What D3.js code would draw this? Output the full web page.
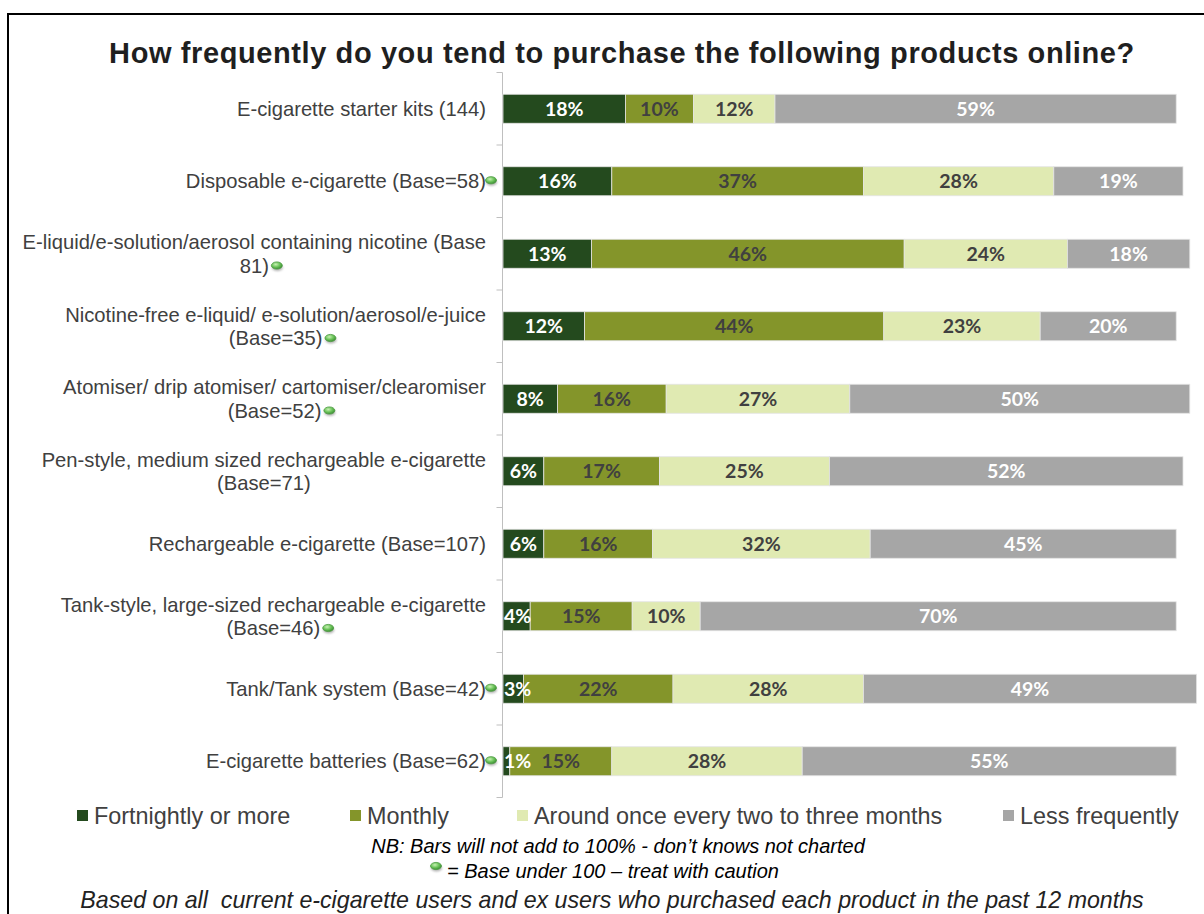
<!DOCTYPE html>
<html>
<head>
<meta charset="utf-8">
<script src="https://cdn.jsdelivr.net/npm/d3@7"></script>
<style>
  html, body { margin: 0; padding: 0; background: #fff; }
  svg { display: block; }
</style>
</head>
<body>
<svg id="chart" width="1204" height="914"></svg>
<script>
// Survey categories (line breaks mark where a long label wraps)
const categories = [
  "E-cigarette starter kits (144)",
  "Disposable e-cigarette (Base=58)",
  "E-liquid/e-solution/aerosol containing nicotine (Base\n81)",
  "Nicotine-free e-liquid/ e-solution/aerosol/e-juice\n(Base=35)",
  "Atomiser/ drip atomiser/ cartomiser/clearomiser\n(Base=52)",
  "Pen-style, medium sized rechargeable e-cigarette\n(Base=71)",
  "Rechargeable e-cigarette (Base=107)",
  "Tank-style, large-sized rechargeable e-cigarette\n(Base=46)",
  "Tank/Tank system (Base=42)",
  "E-cigarette batteries (Base=62)"
];
// Rows flagged with a caution marker
const cautionFlag = [false, true, true, true, true, false, false, true, true, true];

const seriesNames = [
  "Fortnightly or more",
  "Monthly",
  "Around once every two to three months",
  "Less frequently"
];
const fortnightly = [18, 16, 13, 12, 8, 6, 6, 4, 3, 1];
const monthly     = [10, 37, 46, 44, 16, 17, 16, 15, 22, 15];
const around      = [12, 28, 24, 23, 27, 25, 32, 10, 28, 28];
const less        = [59, 19, 18, 20, 50, 52, 45, 70, 49, 55];

const titleText = "How frequently do you tend to purchase the following products online?";
const noteText = "NB: Bars will not add to 100% - don\u2019t knows not charted";
const cautionText = "= Base under 100 \u2013 treat with caution";
const baseText = "Based on all  current e-cigarette users and ex users who purchased each product in the past 12 months";

const colors = ["#244a1e", "#84952a", "#e0eab2", "#a6a6a6"];
const labelColors = ["#ffffff", "#404040", "#404040", "#ffffff"];

const svg = d3.select("#chart");
const defs = svg.append("defs");

// Glossy green marker
const grad = defs.append("radialGradient").attr("id", "dotGrad")
  .attr("cx", "40%").attr("cy", "35%").attr("r", "65%");
grad.append("stop").attr("offset", "0%").attr("stop-color", "#c8f0b4");
grad.append("stop").attr("offset", "55%").attr("stop-color", "#6cc45a");
grad.append("stop").attr("offset", "100%").attr("stop-color", "#3d8f35");
const blur = defs.append("filter").attr("id", "dotShadow")
  .attr("x", "-50%").attr("y", "-50%").attr("width", "200%").attr("height", "200%");
blur.append("feGaussianBlur").attr("stdDeviation", 1.2);

function drawDot(g, cx, cy) {
  g.append("ellipse").attr("cx", cx + 0.5).attr("cy", cy + 2.2)
    .attr("rx", 5.5).attr("ry", 3.2).attr("fill", "#777").attr("opacity", 0.55)
    .attr("filter", "url(#dotShadow)");
  g.append("ellipse").attr("cx", cx).attr("cy", cy)
    .attr("rx", 5.5).attr("ry", 3.6)
    .attr("fill", "url(#dotGrad)").attr("stroke", "#4d9a41").attr("stroke-width", 0.8);
}

// Outer frame
svg.append("rect").attr("x", 8).attr("y", 14).attr("width", 1300).attr("height", 1000)
  .attr("fill", "none").attr("stroke", "#000").attr("stroke-width", 2);

// Title
svg.append("text").attr("x", 622).attr("y", 63)
  .attr("text-anchor", "middle")
  .attr("font-family", "'Liberation Sans', Arial, sans-serif")
  .attr("font-weight", "bold").attr("font-size", 29)
  .attr("letter-spacing", 0.6)
  .attr("fill", "#1f1f1f")
  .text(titleText);

// Scales
const x = d3.scaleLinear().domain([0, 100]).range([503, 1183]);
const y = d3.scaleBand().domain(d3.range(categories.length)).range([72.5, 797.5]).paddingInner(0.6).paddingOuter(0.3);
const yBand = d3.scaleBand().domain(d3.range(categories.length)).range([72.5, 797.5]);

// Stack
const rows = categories.map((c, i) => ({
  i, s0: fortnightly[i], s1: monthly[i], s2: around[i], s3: less[i]
}));
const stack = d3.stack().keys(["s0", "s1", "s2", "s3"]);
const layers = stack(rows);

// Category axis line and boundary ticks
const axisG = svg.append("g").attr("transform", `translate(${x(0) - 0.5},0)`);
const tickVals = d3.range(categories.length + 1).map(k => k === categories.length ? yBand.range()[1] : yBand(k));
axisG.append("line").attr("x1", 0).attr("x2", 0)
  .attr("y1", yBand.range()[0]).attr("y2", yBand.range()[1])
  .attr("stroke", "#bfbfbf").attr("stroke-width", 1);
axisG.selectAll("line.tick").data(tickVals).join("line").attr("class", "tick")
  .attr("x1", -6).attr("x2", 0).attr("y1", d => d).attr("y2", d => d)
  .attr("stroke", "#bfbfbf").attr("stroke-width", 1);

// Bars
const barG = svg.append("g");
layers.forEach((layer, k) => {
  barG.selectAll(null).data(layer).join("rect")
    .attr("x", d => x(d[0]))
    .attr("width", d => x(d[1]) - x(d[0]))
    .attr("y", d => y(d.data.i))
    .attr("height", y.bandwidth())
    .attr("fill", colors[k])
    .attr("stroke", "#e4e4e4").attr("stroke-width", 0.8);
});

// Value labels, centred on each segment but kept inside the plot's left edge
layers.forEach((layer, k) => {
  barG.selectAll(null).data(layer).join("text")
    .attr("y", d => y(d.data.i) + y.bandwidth() / 2)
    .attr("dy", "0.36em")
    .attr("text-anchor", "middle")
    .attr("font-family", "Lato, 'Open Sans', sans-serif")
    .attr("font-weight", "bold").attr("font-size", 19.5)
    .attr("fill", labelColors[k])
    .text(d => (d[1] - d[0]) + "%")
    .each(function (d) {
      const w = this.getComputedTextLength();
      const cx = Math.max((x(d[0]) + x(d[1])) / 2, x(0) + 1 + w / 2);
      d3.select(this).attr("x", cx);
    });
});

// Category labels
const labelRight = 486;
const labG = svg.append("g")
  .attr("font-family", "'Liberation Sans', Arial, sans-serif")
  .attr("font-size", 20.2).attr("fill", "#404040");
categories.forEach((cat, i) => {
  const lines = cat.split("\n");
  const cy = yBand(i) + yBand.bandwidth() / 2;
  const lineH = 23.5;
  if (lines.length === 1) {
    labG.append("text").attr("x", labelRight).attr("y", cy).attr("dy", "0.35em")
      .attr("text-anchor", "end").text(lines[0]);
    if (cautionFlag[i]) {
      drawDot(svg, labelRight + 5, cy - 1);
    }
  } else {
    const t1 = labG.append("text").attr("x", labelRight).attr("y", cy - lineH / 2).attr("dy", "0.35em")
      .attr("text-anchor", "end").text(lines[0]);
    const w1 = t1.node().getComputedTextLength();
    const mid = labelRight - w1 / 2;
    const t2 = labG.append("text").attr("x", mid).attr("y", cy + lineH / 2).attr("dy", "0.35em")
      .attr("text-anchor", "middle").text(lines[1]);
    if (cautionFlag[i]) {
      const w2 = t2.node().getComputedTextLength();
      drawDot(svg, mid + w2 / 2 + 8, cy + lineH / 2);
    }
  }
});

// Legend
const legendX = [77, 350, 517, 1003];
const legG = svg.append("g")
  .attr("font-family", "'Liberation Sans', Arial, sans-serif")
  .attr("font-size", 23.4).attr("fill", "#404040");
seriesNames.forEach((name, k) => {
  legG.append("rect").attr("x", legendX[k]).attr("y", 810).attr("width", 11).attr("height", 11)
    .attr("fill", colors[k]);
  legG.append("text").attr("x", legendX[k] + 17).attr("y", 816).attr("dy", "0.35em").text(name);
});

// Notes
const noteG = svg.append("g")
  .attr("font-family", "'Liberation Sans', Arial, sans-serif")
  .attr("font-style", "italic").attr("fill", "#000");
noteG.append("text").attr("x", 618).attr("y", 846).attr("dy", "0.35em")
  .attr("text-anchor", "middle").attr("font-size", 20).text(noteText);
noteG.append("text").attr("x", 447).attr("y", 871).attr("dy", "0.35em")
  .attr("font-size", 20).text(cautionText);
drawDot(svg, 436, 866);
noteG.append("text").attr("x", 612).attr("y", 900).attr("dy", "0.35em")
  .attr("text-anchor", "middle").attr("font-size", 23.2).attr("fill", "#222")
  .style("white-space", "pre").text(baseText);
</script>
</body>
</html>
